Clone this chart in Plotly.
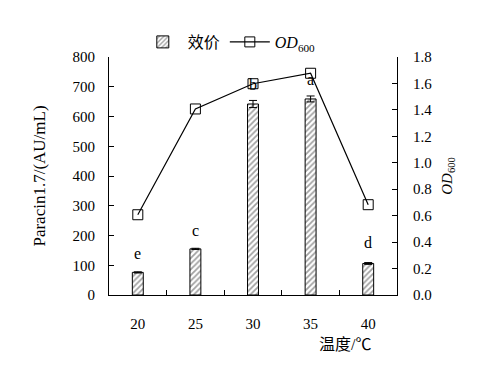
import plotly.graph_objects as go

temps = ["20", "25", "30", "35", "40"]
titer = [76, 155, 642, 659, 106]
titer_err = [2, 2, 12, 10, 3]
od600 = [0.607, 1.407, 1.598, 1.677, 0.683]
letters = ["e", "c", "b", "a", "d"]
letter_y = [141, 218, 709, 723, 175]

serif = "Liberation Serif"
cjk = "Liberation Serif, Noto Sans CJK SC"
tickfont = dict(family=serif, size=15, color="black")

fig = go.Figure()
fig.add_trace(go.Bar(
    x=temps, y=titer, name="效价", width=0.19,
    marker=dict(color="white", line=dict(color="black", width=1),
                pattern=dict(shape="/", fgcolor="#444444", bgcolor="white", size=4, solidity=0.45)),
    error_y=dict(type="data", array=titer_err, color="black", thickness=1, width=4),
))
fig.add_trace(go.Scatter(
    x=temps, y=od600, name="<i>OD</i><sub>600</sub>", yaxis="y2", mode="lines+markers",
    line=dict(color="black", width=1.2),
    marker=dict(symbol="square-open", size=10, color="black", line=dict(width=1)),
))

for i, (l, ly) in enumerate(zip(letters, letter_y)):
    fig.add_annotation(x=i, y=ly, xref="x", yref="y", text=l, showarrow=False,
                       font=dict(family=serif, size=16, color="black"))

fig.add_annotation(x=0.82, y=-0.21, xref="paper", yref="paper", text="温度/℃", showarrow=False,
                   xanchor="center", yanchor="middle", font=dict(family=cjk, size=16, color="black"))

fig.update_layout(
    width=491, height=368,
    margin=dict(l=101, r=102, t=49, b=81),
    paper_bgcolor="white", plot_bgcolor="white",
    font=dict(family=serif, size=15, color="black"),
    showlegend=True,
    legend=dict(orientation="h", x=0.1, xanchor="left", y=1.063, yanchor="middle",
                font=dict(family=cjk, size=16), itemwidth=40, bgcolor="rgba(0,0,0,0)"),
    xaxis=dict(type="category", range=[-0.5, 4.5], showline=True, linecolor="black", linewidth=1,
               ticks="inside", tickson="boundaries", ticklen=5, tickcolor="black", tickfont=tickfont,
               ticklabelstandoff=15, showgrid=False, zeroline=False, tickangle=0),
    yaxis=dict(range=[0, 800], dtick=100, showline=True, linecolor="black", linewidth=1,
               ticks="inside", ticklen=5, tickcolor="black", showgrid=False, zeroline=False,
               ticklabelstandoff=10, tickfont=tickfont,
               title=dict(text="Paracin1.7/(AU/mL)", font=dict(family=serif, size=17), standoff=22)),
    yaxis2=dict(range=[0, 1.8], dtick=0.2, tickformat=".1f", overlaying="y", side="right",
                showline=True, linecolor="black", linewidth=1, ticks="inside", ticklen=5,
                tickcolor="black", showgrid=False, zeroline=False, ticklabelstandoff=12,
                tickfont=tickfont,
                title=dict(text="<i>OD</i><sub>600</sub>", font=dict(family=serif, size=15), standoff=10)),
    bargap=0.5,
)

fig.write_html("out.html")
